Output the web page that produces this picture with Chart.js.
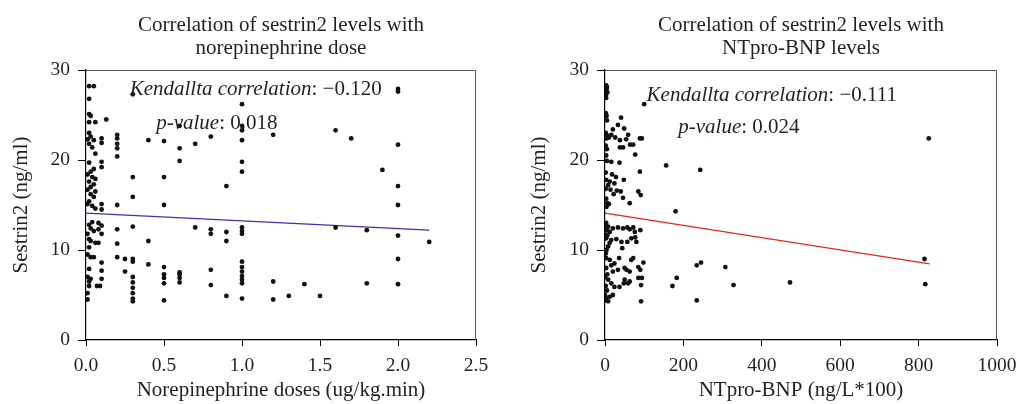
<!DOCTYPE html>
<html><head><meta charset="utf-8">
<script src="https://cdn.jsdelivr.net/npm/chart.js@4.4.1/dist/chart.umd.min.js"></script>
<style>
html,body{margin:0;padding:0;background:#fff;}
#wrap{position:relative;width:1017px;height:404px;overflow:hidden;}
.box{position:absolute;top:0;height:404px;}
</style></head><body>
<div id="wrap">
<div class="box" style="left:0;width:500px"><canvas id="c1" width="500" height="404"></canvas></div>
<div class="box" style="left:500px;width:540px"><canvas id="c2" width="540" height="404"></canvas></div>
</div>
<script>
// ---------- DATA ----------
const leftTitle = ['Correlation of sestrin2 levels with', 'norepinephrine dose'];
const rightTitle = ['Correlation of sestrin2 levels with', 'NTpro-BNP levels'];
const yAxisTitle = 'Sestrin2 (ng/ml)';
const leftXTitle = 'Norepinephrine doses (ug/kg.min)';
const rightXTitle = 'NTpro-BNP (ng/L*100)';
const yTicks = [0, 10, 20, 30];
const leftXTicks = [0, 0.5, 1.0, 1.5, 2.0, 2.5];
const rightXTicks = [0, 200, 400, 600, 800, 1000];

// norepinephrine dose (x) vs sestrin2 (y)
const leftX = [
 0.02,0.05,0.02,0.02,0.03,0.02,0.06,0.02,0.03,0.01,0.05,0.02,0.04,0.06,0.02,0.05,0.03,0.01,0.04,0.06,
 0.02,0.05,0.03,0.01,0.06,0.03,0.05,0.02,0.01,0.04,0.06,0.04,0.02,0.03,0.05,0.01,0.02,0.03,0.06,0.02,
 0.01,0.03,0.05,0.02,0.01,0.03,0.02,0.02,0.01,0.01,
 0.08,0.08,0.08,0.07,0.09,
 0.10,0.10,0.10,0.10,0.10,0.10,0.10,0.10,0.10,0.10,0.10,
 0.13,
 0.2,0.2,0.2,0.2,0.2,0.2,0.2,0.2,0.2,
 0.25,0.25,
 0.3,0.3,0.3,0.3,0.3,0.3,0.3,0.3,0.3,0.3,0.3,0.3,
 0.4,0.4,0.4,
 0.5,0.5,0.5,0.5,0.5,0.5,0.5,0.5,
 0.6,0.6,0.6,0.6,0.6,0.6,0.6,
 0.7,0.7,
 0.8,0.8,0.8,0.8,0.8,
 0.9,0.9,0.9,0.9,
 1.0,1.0,1.0,1.0,1.0,1.0,1.0,1.0,1.0,1.0,1.0,1.0,1.0,1.0,1.0,1.0,
 1.2,1.2,1.2,
 1.3,1.4,1.5,
 1.6,1.6,1.7,1.8,1.8,1.9,
 2.0,2.0,2.0,2.0,2.0,2.0,2.0,2.0,
 2.2
];
const leftY = [
 28.2,28.2,26.8,25.1,24.9,24.2,24.2,23.0,22.6,22.3,22.2,21.8,21.4,20.7,19.7,19.0,18.7,18.4,18.1,17.9,
 17.6,17.3,17.0,16.7,16.5,16.2,15.9,15.4,15.1,14.9,14.6,13.1,12.8,12.4,12.1,11.8,11.2,11.0,10.8,10.3,
 9.5,9.2,9.2,7.9,7.0,6.8,6.5,6.0,5.2,4.5,
 13.0,12.3,10.8,6.0,6.0,
 22.4,21.9,19.8,19.2,15.1,14.5,12.7,11.8,8.6,7.7,6.8,
 24.5,
 22.8,22.4,21.8,21.3,20.4,15.0,12.3,10.7,9.2,
 9.0,7.6,
 27.3,18.1,15.9,12.6,9.0,8.7,7.0,6.4,5.8,5.2,4.6,4.3,
 22.2,11.0,8.4,
 22.1,18.1,15.0,8.1,7.3,6.9,6.3,4.4,
 23.8,21.3,19.9,7.5,7.3,6.9,6.4,
 21.8,12.5,
 22.6,12.3,11.8,7.8,6.1,
 17.1,12.0,11.0,4.9,
 26.2,23.8,23.3,22.2,19.8,18.7,12.5,12.1,11.8,8.7,8.1,7.6,7.1,6.7,6.3,4.6,
 22.8,6.5,4.5,
 4.9,6.2,4.9,
 23.3,12.5,22.4,12.2,6.3,18.9,
 27.9,27.6,21.7,17.1,15.0,11.6,9.0,6.2,
 10.9
];
const leftFitX = [0, 2.2];
const leftFitY = [14.1, 12.2];

// NTpro-BNP (x) vs sestrin2 (y)
const rightX = [
 3,5,4,6,2,3,100,2,4,5,41,33,20,49,2,6,4,10,16,26,38,59,54,64,89,94,72,46,38,2,5,
 77,3,16,37,5,156,243,89,2,18,28,48,3,12,24,8,2,14,30,40,22,85,91,46,3,63,6,10,4,180,
 3,8,20,12,33,46,57,63,72,76,90,77,67,80,57,42,29,16,12,3,8,44,2,5,2,6,4,2,
 3,12,16,24,20,33,36,50,55,63,67,72,85,90,98,0,8,16,24,37,48,50,59,63,85,94,92,0,3,8,12,20,92,
 3,6,2,5,2,
 234,245,307,328,183,172,234,472,826,815,817
];
const rightY = [
 28.3,28.1,27.8,27.5,27.2,26.9,26.2,25.2,24.9,24.4,24.7,23.9,23.4,23.5,23.0,22.7,22.4,22.5,22.8,22.5,22.2,22.8,22.3,21.7,22.4,22.4,21.7,21.4,21.4,21.6,21.2,
 20.6,20.5,19.8,19.7,19.9,19.4,18.9,18.7,18.6,18.4,18.1,17.8,17.8,17.6,17.4,17.2,16.8,16.7,16.6,16.5,16.2,16.5,16.1,15.8,15.7,15.2,15.2,15.1,14.8,14.3,
 13.0,12.6,12.4,12.0,12.5,12.4,12.5,12.3,12.5,12.0,12.2,11.4,11.3,10.9,10.9,10.9,11.2,11.1,10.8,11.3,10.4,10.2,12.7,12.2,11.7,11.6,10.0,9.6,
 9.1,8.9,8.3,8.5,7.6,7.8,9.1,8.0,7.8,7.6,8.9,9.1,8.1,7.8,8.6,7.0,6.7,6.3,5.9,5.9,6.3,6.7,6.3,6.5,6.9,6.9,6.1,5.0,4.4,4.3,4.8,5.0,4.3,
 8.0,7.3,6.0,5.5,4.7,
 8.3,8.6,8.1,6.1,6.9,6.0,4.4,6.4,22.4,9.0,6.2
];
const rightFitX = [0, 828];
const rightFitY = [14.1, 8.45];

const leftStats = {label: 'Kendallta correlation', r: ': \u22120.120', p: ': 0.018', ax: 0.28, ay: 27.2, px: 0.45, py: 23.4};
const rightStats = {label: 'Kendallta correlation', r: ': \u22120.111', p: ': 0.024', ax: 106, ay: 26.6, px: 187, py: 23.0};

// ---------- HELPERS ----------
const SERIF = '"Liberation Serif", "DejaVu Serif", serif';
const TEXT = '#231f20';
const pts = (xs, ys) => xs.map((x, i) => ({x, y: ys[i]}));

const framePlugin = {
  id: 'frame',
  afterDatasetsDraw(chart) {
    const {ctx, chartArea: a} = chart;
    ctx.save();
    ctx.strokeStyle = '#555';
    ctx.lineWidth = 1;
    ctx.beginPath();
    ctx.moveTo(a.left, a.top + 0.5);
    ctx.lineTo(a.right - 0.5, a.top + 0.5);
    ctx.lineTo(a.right - 0.5, a.bottom);
    ctx.stroke();
    ctx.restore();
  }
};

const annotPlugin = {
  id: 'annot',
  afterDatasetsDraw(chart, args, o) {
    const {ctx, scales: {x, y}} = chart;
    const s = o.stats;
    ctx.save();
    ctx.fillStyle = TEXT;
    ctx.textBaseline = 'alphabetic';
    const draw = (parts, px, py) => {
      let cx = px;
      for (const [t, it] of parts) {
        ctx.font = (it ? 'italic ' : '') + '21px ' + SERIF;
        ctx.fillText(t, cx, py);
        cx += ctx.measureText(t).width;
      }
    };
    draw([[s.label, true], [s.r, false]], x.getPixelForValue(s.ax), y.getPixelForValue(s.ay));
    draw([['p-value', true], [s.p, false]], x.getPixelForValue(s.px), y.getPixelForValue(s.py));
    ctx.restore();
  }
};

function makeChart(id, cfg) {
  const tickFont = {family: SERIF, size: 19.5};
  const titleFont = {family: SERIF, size: 21};
  return new Chart(document.getElementById(id), {
    type: 'scatter',
    data: {
      datasets: [
        {data: pts(cfg.xs, cfg.ys), pointRadius: 2.4, pointHoverRadius: 2.4, backgroundColor: '#111', borderWidth: 0, order: 1},
        {type: 'line', data: pts(cfg.fitX, cfg.fitY), borderColor: cfg.fitColor, borderWidth: 1.2, pointRadius: 0, fill: false, order: 2}
      ]
    },
    options: {
      responsive: false,
      animation: false,
      events: [],
      layout: {padding: {left: cfg.padLeft, right: cfg.padRight, top: 0, bottom: 0}},
      plugins: {
        legend: {display: false},
        tooltip: {enabled: false},
        title: {display: true, text: cfg.title, fullSize: false, color: TEXT,
          font: {family: SERIF, size: 21, weight: 'normal', lineHeight: 23 / 21},
          padding: {top: 13.5, bottom: 10.5}},
        annot: {stats: cfg.stats}
      },
      scales: {
        x: {
          type: 'linear', min: cfg.xTicks[0], max: cfg.xTicks[cfg.xTicks.length - 1],
          afterBuildTicks: (s) => { s.ticks = cfg.xTicks.map(v => ({value: v})); },
          afterFit: (s) => { s.height = 64; },
          ticks: {color: TEXT, font: tickFont, padding: 8, maxRotation: 0, callback: cfg.xFmt},
          grid: {display: true, drawOnChartArea: false, drawTicks: true, tickLength: 6, color: '#000', lineWidth: 1},
          border: {display: true, color: '#000', width: 1.2},
          title: {display: true, text: cfg.xTitle, color: TEXT, font: titleFont, padding: {top: 0, bottom: 1}}
        },
        y: {
          type: 'linear', min: 0, max: 30,
          afterBuildTicks: (s) => { s.ticks = yTicks.map(v => ({value: v})); },
          afterFit: (s) => { s.width = cfg.yWidth; },
          ticks: {color: TEXT, font: tickFont, padding: 8},
          grid: {display: true, drawOnChartArea: false, drawTicks: true, tickLength: 8, color: '#000', lineWidth: 1},
          border: {display: true, color: '#000', width: 1.2},
          title: {display: true, text: yAxisTitle, color: TEXT, font: titleFont, padding: {top: 9, bottom: 0}}
        }
      }
    },
    plugins: [framePlugin, annotPlugin]
  });
}

makeChart('c1', {
  xs: leftX, ys: leftY, fitX: leftFitX, fitY: leftFitY, fitColor: '#3434b0',
  title: leftTitle, xTitle: leftXTitle, xTicks: leftXTicks,
  xFmt: (v) => Number(v).toFixed(1), padLeft: 0, padRight: 24, yWidth: 86, stats: leftStats
});
makeChart('c2', {
  xs: rightX, ys: rightY, fitX: rightFitX, fitY: rightFitY, fitColor: '#e3261e',
  title: rightTitle, xTitle: rightXTitle, xTicks: rightXTicks,
  xFmt: (v) => String(v), padLeft: 18, padRight: 43, yWidth: 87, stats: rightStats
});
</script>
</body></html>
